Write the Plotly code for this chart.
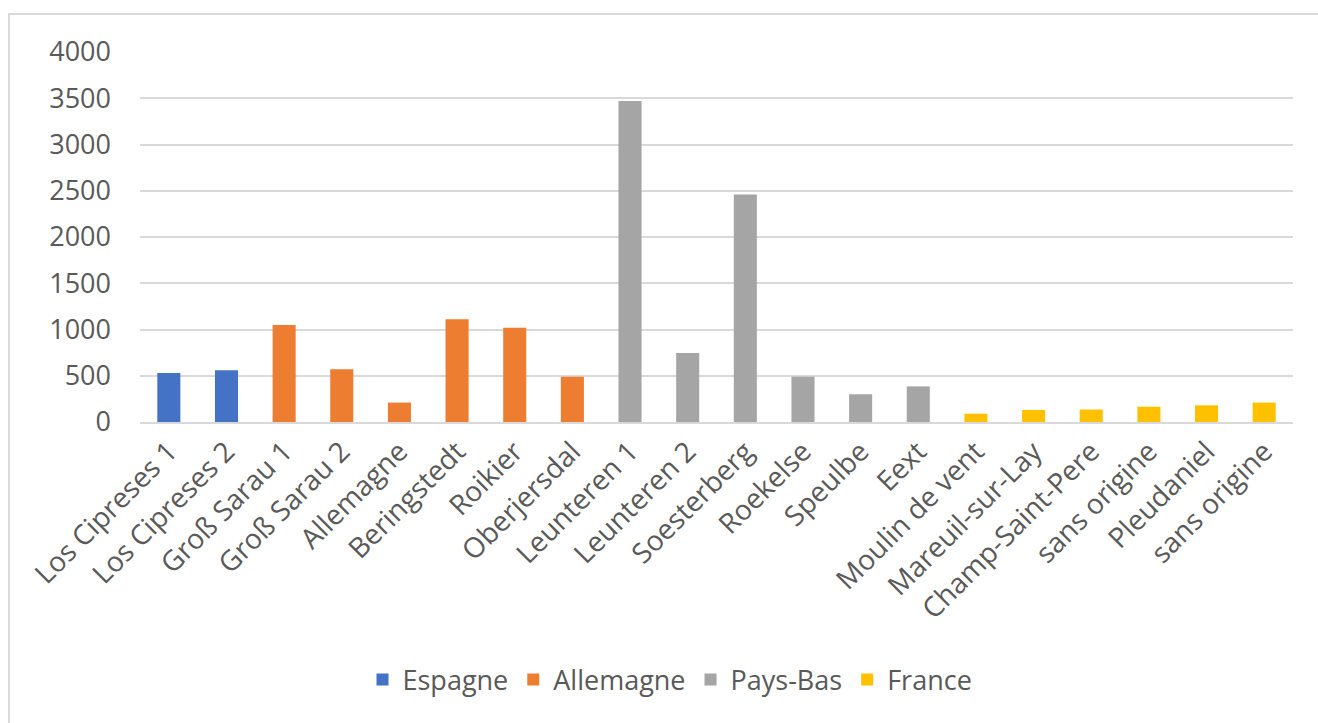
import plotly.graph_objects as go

# Sites, in display order, with their country group and measured value
sites = [
    "Los Cipreses 1", "Los Cipreses 2",
    "Groß Sarau 1", "Groß Sarau 2", "Allemagne", "Beringstedt", "Roikier", "Oberjersdal",
    "Leunteren 1", "Leunteren 2", "Soesterberg", "Roekelse", "Speulbe", "Eext",
    "Moulin de vent", "Mareuil-sur-Lay", "Champ-Saint-Pere", "sans origine", "Pleudaniel", "sans origine",
]
espagne = [530, 560]
allemagne = [1050, 570, 210, 1110, 1020, 490]
pays_bas = [3470, 745, 2460, 490, 300, 385]
france = [90, 130, 135, 165, 180, 210]

groups = [
    ("Espagne", espagne, "#4472C4"),
    ("Allemagne", allemagne, "#ED7D31"),
    ("Pays-Bas", pays_bas, "#A5A5A5"),
    ("France", france, "#FFC000"),
]

W, H = 1318, 723
ML, MR, MT, MB = 140, 25, 52, 301
FONT = "Open Sans"
TXT = "#595959"

fig = go.Figure()
start = 0
for name, vals, color in groups:
    xs = list(range(start, start + len(vals)))
    fig.add_trace(go.Bar(
        x=xs, y=vals, name=name,
        marker=dict(color=color, line=dict(width=0)),
        width=0.4,
    ))
    start += len(vals)

plot_w = W - ML - MR
plot_h = H - MT - MB

def px_x(p):
    return (p - ML) / plot_w

def px_y(p):
    return (H - MB - p) / plot_h

# Chart-area frame (top and left edges)
fig.add_shape(type="rect", xref="paper", yref="paper",
              x0=px_x(9), x1=px_x(W + 20), y0=px_y(H + 20), y1=px_y(14),
              line=dict(color="#D9D9D9", width=2), fillcolor="rgba(0,0,0,0)", layer="below")

fig.update_layout(
    width=W, height=H,
    margin=dict(l=ML, r=MR, t=MT, b=MB, pad=0),
    paper_bgcolor="white", plot_bgcolor="white",
    barmode="overlay",
    font=dict(family=FONT, color=TXT),
    showlegend=True,
    legend=dict(
        orientation="h", x=px_x(670), xanchor="center", y=px_y(680), yanchor="middle",
        font=dict(size=27, color=TXT), itemwidth=30, traceorder="normal",
    ),
    xaxis=dict(
        tickmode="array", tickvals=list(range(len(sites))), ticktext=sites,
        range=[-0.5, len(sites) - 0.5], tickangle=-45,
        tickfont=dict(size=28, color=TXT),
        showgrid=False, showline=True, linecolor="#D9D9D9", linewidth=2,
        ticks="", zeroline=False, fixedrange=True,
    ),
    yaxis=dict(
        range=[0, 4000], tickvals=[0, 500, 1000, 1500, 2000, 2500, 3000, 3500, 4000],
        tickfont=dict(size=27, color=TXT), ticklabelstandoff=28,
        showgrid=True, gridcolor="#D9D9D9", gridwidth=2,
        zeroline=False, showline=False, ticks="",
    ),
)

fig.write_html("out.html")
